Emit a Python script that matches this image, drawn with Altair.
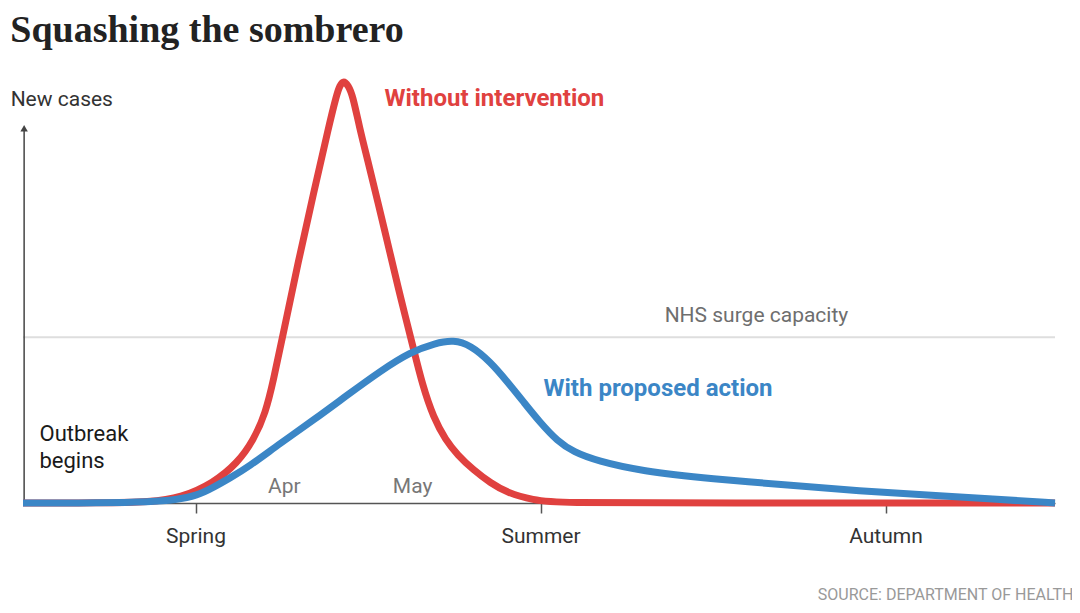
import altair as alt
import pandas as pd

# x: days from the start of spring (1 March); y: relative new cases (unmitigated peak = 100)
red_day = [-46.0, -25.3, -12.0, -4.0, 4.8, 11.2, 15.5, 18.7, 20.8, 23.2, 27.2, 31.5,
           35.5, 37.6, 38.5, 39.5, 40.7, 41.9, 43.7, 45.9, 48.5, 52.0, 54.7, 57.9, 60.5, 63.5,
           66.7, 69.9, 74.1, 78.7, 83.2, 90.1, 96.5, 134.7, 229.2]
red_cases = [0, 0, 0.24, 1.19, 4.75, 9.5, 14.96, 21.38, 29.22, 39.43, 56.53, 73.63,
             89.31, 96.91, 99.2, 100.4, 99.2, 96.91, 89.31, 81.47, 71.97, 58.91, 48.69, 37.53,
             28.03, 20.19, 14.96, 11.4, 7.84, 4.75, 2.38, 0.71, 0, 0, 0]

blue_day = [-46.0, -25.3, -12.0, -5.3, 0.5, 4.8, 9.3, 13.9, 22.7, 31.5, 40.5, 49.3, 57.3, 64.0,
            68.8, 73.3, 78.7, 83.2, 87.5, 92.0, 96.5, 100.8, 107.2, 118.7, 138.1, 157.9,
            177.3, 195.2, 212.8, 229.2]
blue_cases = [0, 0, 0.24, 0.71, 1.78, 3.71, 6.0, 8.43, 14.25, 19.71, 25.65, 31.35, 35.87, 38.0,
              38.72, 37.53, 33.49, 28.74, 23.99, 19.0, 14.73, 12.11, 9.98, 7.6, 5.7, 4.28,
              2.85, 1.9, 0.95, 0]

nhs_capacity = 39.4
x_domain = [-46.0, 229.2]
y_domain = [0, 102.85]

season_days = [0, 92, 184]
season_labels = ["Spring", "Summer", "Autumn"]

axis_top = 89.0

# annotations
title_text = ["Squashing the sombrero"]
title_day = [-49.4]
title_val = [109.5]

ann_text = ["New cases", "NHS surge capacity"]
ann_day = [-49.3, 125.1]
ann_val = [95.7, 44.4]
ann_color = ["#333333", "#6e6e6e"]

outbreak_text = ["Outbreak", "begins"]
outbreak_day = [-41.6, -41.6]
outbreak_val = [16.4, 10.0]

bold_text = ["Without intervention", "With proposed action"]
bold_day = [50.4, 92.8]
bold_val = [96.0, 27.1]
bold_color = ["#e0413f", "#3b86c6"]

month_text = ["Apr", "May"]
month_day = [23.7, 57.9]
month_val = [3.8, 3.8]

source_text = ["SOURCE: DEPARTMENT OF HEALTH"]
source_day = [234.1]
source_val = [-21.9]

RED = "#e0413f"
BLUE = "#3b86c6"
FONT = "Roboto"

xs = alt.Scale(domain=x_domain, nice=False, zero=False)
ys = alt.Scale(domain=y_domain, nice=False, zero=False)

label_expr = " : ".join(
    f"datum.value == {d} ? '{l}'" for d, l in zip(season_days[:-1], season_labels[:-1])
) + f" : '{season_labels[-1]}'"

red_df = pd.DataFrame({"day": red_day, "cases": red_cases})
blue_df = pd.DataFrame({"day": blue_day, "cases": blue_cases})

base_x = alt.X(
    "day:Q", scale=xs, title=None,
    axis=alt.Axis(values=season_days, labelExpr=label_expr, grid=False,
                  domainColor="#555555", domainWidth=1.5, tickColor="#555555",
                  tickWidth=1.5, tickSize=10, labelPadding=12, labelFont=FONT,
                  labelFontSize=21, labelColor="#333333", labelFlush=False),
)

nhs = alt.Chart(pd.DataFrame({"a": [x_domain[0]], "b": [x_domain[1]], "y": [nhs_capacity]})).mark_rule(
    color="#dedede", strokeWidth=2
).encode(x=alt.X("a:Q", scale=xs), x2="b:Q", y=alt.Y("y:Q", scale=ys, axis=None))

yaxis = alt.Chart(pd.DataFrame({"x": [x_domain[0] + 0.3], "y0": [0], "y1": [axis_top]})).mark_rule(
    color="#444444", strokeWidth=1.5
).encode(x=alt.X("x:Q", scale=xs), y=alt.Y("y0:Q", scale=ys, axis=None), y2="y1:Q")

arrow = alt.Chart(pd.DataFrame({"x": [x_domain[0] + 0.3], "y": [axis_top]})).mark_point(
    shape="triangle-up", filled=True, size=55, color="#444444", opacity=1
).encode(x=alt.X("x:Q", scale=xs), y=alt.Y("y:Q", scale=ys, axis=None))

red_line = alt.Chart(red_df).mark_line(
    color=RED, strokeWidth=7, interpolate="basis", strokeCap="butt"
).encode(x=base_x, y=alt.Y("cases:Q", scale=ys, axis=None), order="day:Q")

blue_line = alt.Chart(blue_df).mark_line(
    color=BLUE, strokeWidth=7, interpolate="basis", strokeCap="butt"
).encode(x=alt.X("day:Q", scale=xs), y=alt.Y("cases:Q", scale=ys, axis=None), order="day:Q")

title = alt.Chart(pd.DataFrame({"d": title_day, "v": title_val, "t": title_text})).mark_text(
    align="left", baseline="alphabetic", font="Liberation Serif", fontSize=38,
    fontWeight="bold", color="#222222"
).encode(x=alt.X("d:Q", scale=xs), y=alt.Y("v:Q", scale=ys), text="t:N")

ann = alt.Chart(pd.DataFrame({"d": ann_day, "v": ann_val, "t": ann_text, "c": ann_color})).mark_text(
    align="left", baseline="middle", font=FONT, fontSize=21
).encode(x=alt.X("d:Q", scale=xs), y=alt.Y("v:Q", scale=ys), text="t:N",
         color=alt.Color("c:N", scale=None))

outbreak = alt.Chart(pd.DataFrame({"d": outbreak_day, "v": outbreak_val, "t": outbreak_text})).mark_text(
    align="left", baseline="middle", font=FONT, fontSize=22, color="#1a1a1a"
).encode(x=alt.X("d:Q", scale=xs), y=alt.Y("v:Q", scale=ys), text="t:N")

bold = alt.Chart(pd.DataFrame({"d": bold_day, "v": bold_val, "t": bold_text, "c": bold_color})).mark_text(
    align="left", baseline="middle", font=FONT, fontSize=24, fontWeight="bold"
).encode(x=alt.X("d:Q", scale=xs), y=alt.Y("v:Q", scale=ys), text="t:N",
         color=alt.Color("c:N", scale=None))

months = alt.Chart(pd.DataFrame({"d": month_day, "v": month_val, "t": month_text})).mark_text(
    align="center", baseline="middle", font=FONT, fontSize=21, color="#777777"
).encode(x=alt.X("d:Q", scale=xs), y=alt.Y("v:Q", scale=ys), text="t:N")

source = alt.Chart(pd.DataFrame({"d": source_day, "v": source_val, "t": source_text})).mark_text(
    align="right", baseline="middle", font=FONT, fontSize=16, color="#999999"
).encode(x=alt.X("d:Q", scale=xs), y=alt.Y("v:Q", scale=ys), text="t:N")

chart = alt.layer(
    nhs, yaxis, arrow, red_line, blue_line, title, ann, outbreak, bold, months, source
).properties(
    width=1032,
    height=433,
    autosize=alt.AutoSizeParams(type="none"),
    padding={"left": 15, "top": 62, "right": 17, "bottom": 102},
    background="white",
).configure_view(stroke=None)

chart.save("out.html", embed_options={"renderer": "svg", "actions": False})
